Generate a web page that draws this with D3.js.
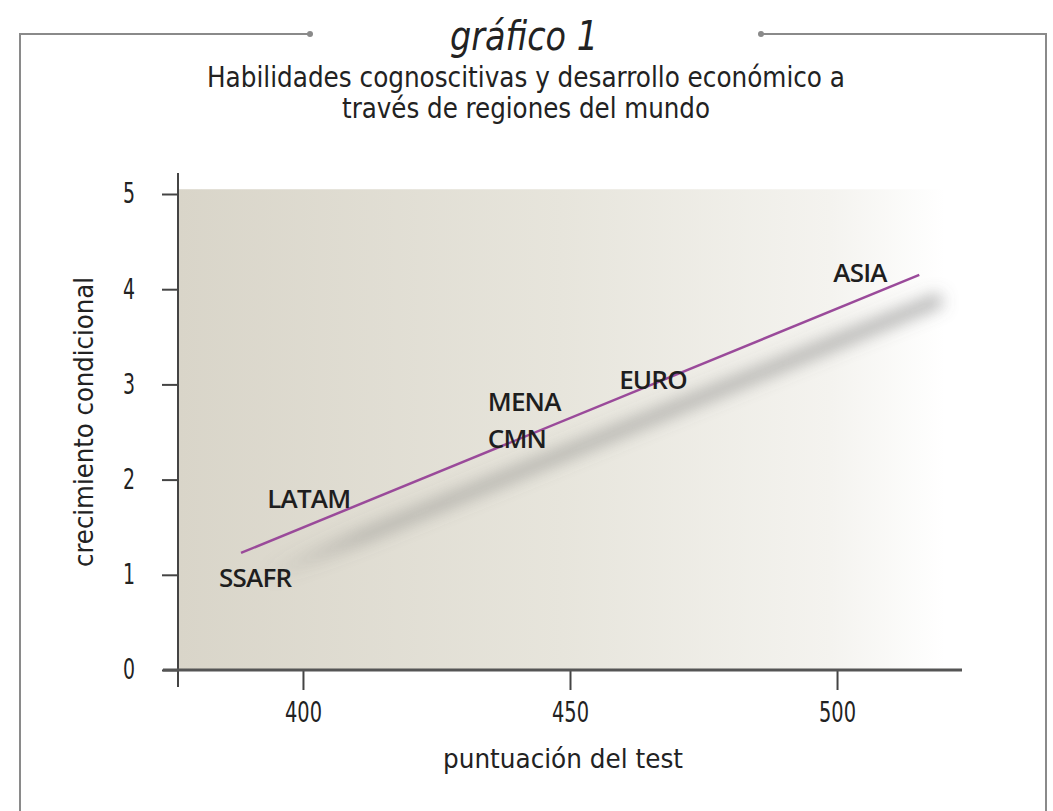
<!DOCTYPE html>
<html>
<head>
<meta charset="utf-8">
<script src="https://cdn.jsdelivr.net/npm/d3@7"></script>
<style>
    body { margin: 0; background: #fff; }
    .narrow { font-family: "Liberation Sans Narrow", "DejaVu Sans Condensed", "DejaVu Sans", sans-serif; fill: #222; }
    .lbl { font-family: "Open Sans", sans-serif; font-weight: 600; fill: #1e1e1e; }
</style>
</head>
<body>
<div id="chart"></div>
<script>
// data
const regions = ['SSAFR', 'LATAM', 'MENA', 'CMN', 'EURO', 'ASIA'];
const regionScore = [384.3, 393.3, 434.6, 434.6, 459.2, 499.3];
const regionGrowth = [0.87, 1.70, 2.72, 2.33, 2.95, 4.08];
const fitScore = [388.4, 515.4];
const fitGrowth = [1.23, 4.15];
const xTicks = [400, 450, 500];
const yTicks = [0, 1, 2, 3, 4, 5];

const W = 1053, H = 811;

const svg = d3.select('#chart').append('svg')
    .attr('width', W)
    .attr('height', H);

const defs = svg.append('defs');
const bg = defs.append('linearGradient').attr('id', 'bg');
bg.append('stop').attr('offset', '0%').attr('stop-color', '#d9d5c9');
bg.append('stop').attr('offset', '50%').attr('stop-color', '#e7e5dc');
bg.append('stop').attr('offset', '85%').attr('stop-color', '#f4f3ef');
bg.append('stop').attr('offset', '100%').attr('stop-color', '#ffffff');

defs.append('filter').attr('id', 'blur')
    .attr('x', '-20%').attr('y', '-50%').attr('width', '140%').attr('height', '200%')
    .append('feGaussianBlur').attr('stdDeviation', 8);

const shade = defs.append('linearGradient').attr('id', 'shade')
    .attr('gradientUnits', 'userSpaceOnUse');

// frame
const frame = svg.append('g').attr('stroke', '#8a8a8a').attr('stroke-width', 2).attr('fill', 'none');
frame.append('path').attr('d', 'M20,811 V34 H310');
frame.append('path').attr('d', 'M761,34 H1046 V811');
svg.append('circle').attr('cx', 310).attr('cy', 34).attr('r', 3).attr('fill', '#8a8a8a');
svg.append('circle').attr('cx', 761).attr('cy', 34).attr('r', 3).attr('fill', '#8a8a8a');

// titles
svg.append('text').attr('class', 'narrow')
    .attr('x', 524).attr('y', 50)
    .attr('text-anchor', 'middle')
    .style('font-size', '40px').style('font-style', 'italic')
    .attr('textLength', 148).attr('lengthAdjust', 'spacingAndGlyphs')
    .text('gráfico 1');
svg.append('text').attr('class', 'narrow')
    .attr('x', 526).attr('y', 87)
    .attr('text-anchor', 'middle')
    .style('font-size', '28px')
    .attr('textLength', 638).attr('lengthAdjust', 'spacingAndGlyphs')
    .text('Habilidades cognoscitivas y desarrollo económico a');
svg.append('text').attr('class', 'narrow')
    .attr('x', 526).attr('y', 118)
    .attr('text-anchor', 'middle')
    .style('font-size', '28px')
    .attr('textLength', 368).attr('lengthAdjust', 'spacingAndGlyphs')
    .text('través de regiones del mundo');

// scales
const x = d3.scaleLinear().domain([376.6, 523.4]).range([178, 962]);
const y = d3.scaleLinear().domain([0, 5]).range([670, 194]);

// plot background
svg.append('rect')
    .attr('x', x(376.6) + 1)
    .attr('y', y(5.05))
    .attr('width', 945 - x(376.6) - 1)
    .attr('height', y(0) - y(5.05))
    .attr('fill', 'url(#bg)');

// fit line with its shadow
const fit = fitScore.map((s, i) => [s, fitGrowth[i]]);
const line = d3.line().x(d => x(d[0])).y(d => y(d[1]));

shade.attr('x1', x(fitScore[0])).attr('x2', x(fitScore[1]));
shade.append('stop').attr('offset', '0%').attr('stop-color', '#6a6a6a').attr('stop-opacity', 0);
shade.append('stop').attr('offset', '15%').attr('stop-color', '#6a6a6a').attr('stop-opacity', 0.35);
shade.append('stop').attr('offset', '100%').attr('stop-color', '#6a6a6a').attr('stop-opacity', 0.5);

svg.append('path')
    .datum(fit)
    .attr('d', line)
    .attr('transform', 'translate(22,24)')
    .attr('fill', 'none')
    .attr('stroke', 'url(#shade)')
    .attr('stroke-width', 14)
    .attr('filter', 'url(#blur)');

svg.append('path')
    .datum(fit)
    .attr('d', line)
    .attr('fill', 'none')
    .attr('stroke', '#9a4a9a')
    .attr('stroke-width', 2.5);

// region labels
svg.append('g').selectAll('text')
    .data(regions)
    .join('text')
    .attr('class', 'lbl')
    .attr('x', (d, i) => x(regionScore[i]))
    .attr('y', (d, i) => y(regionGrowth[i]))
    .style('font-size', '26px')
    .style('letter-spacing', '-0.8px')
    .text(d => d);

// axes
const yAxis = d3.axisLeft(y).tickValues(yTicks).tickFormat(d3.format('d')).tickSize(16).tickPadding(27);
const yAxisG = svg.append('g')
    .attr('transform', `translate(${x(376.6)},0)`)
    .call(yAxis);
yAxisG.select('.domain').remove();

const xAxis = d3.axisBottom(x).tickValues(xTicks).tickFormat(d3.format('d')).tickSize(20).tickPadding(12);
const xAxisG = svg.append('g')
    .attr('transform', `translate(0,${y(0)})`)
    .call(xAxis);
xAxisG.select('.domain').remove();

[yAxisG, xAxisG].forEach(g => {
    g.selectAll('line').attr('stroke', '#444').attr('stroke-width', 2);
    g.selectAll('text')
        .attr('class', 'narrow')
        .attr('fill', null)
        .style('font-size', '28px')
        .attr('lengthAdjust', 'spacingAndGlyphs');
});
yAxisG.selectAll('text').attr('textLength', 12);
xAxisG.selectAll('text').attr('textLength', 37);

svg.append('line')
    .attr('x1', x(376.6)).attr('x2', x(376.6))
    .attr('y1', 173).attr('y2', 687)
    .attr('stroke', '#444').attr('stroke-width', 2);
svg.append('line')
    .attr('x1', 163).attr('x2', x(523.4))
    .attr('y1', y(0)).attr('y2', y(0))
    .attr('stroke', '#555').attr('stroke-width', 3);

// axis titles
svg.append('text').attr('class', 'narrow')
    .attr('transform', 'translate(93,422) rotate(-90)')
    .attr('text-anchor', 'middle')
    .style('font-size', '27px')
    .attr('textLength', 290).attr('lengthAdjust', 'spacingAndGlyphs')
    .text('crecimiento condicional');
svg.append('text').attr('class', 'narrow')
    .attr('x', 563).attr('y', 768)
    .attr('text-anchor', 'middle')
    .style('font-size', '27px')
    .attr('textLength', 240).attr('lengthAdjust', 'spacingAndGlyphs')
    .text('puntuación del test');
</script>
</body>
</html>
